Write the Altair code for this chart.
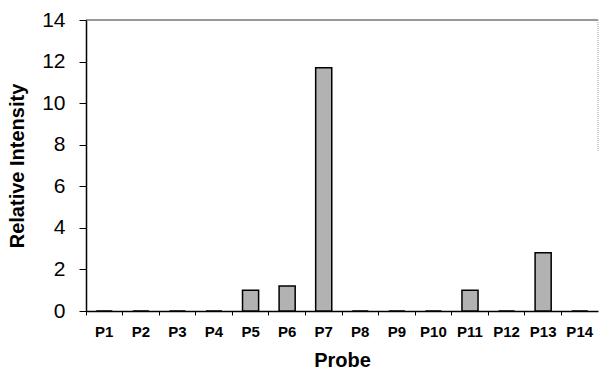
import altair as alt
import pandas as pd

probes = ["P1", "P2", "P3", "P4", "P5", "P6", "P7", "P8", "P9", "P10", "P11", "P12", "P13", "P14"]
intensity = [0, 0, 0, 0, 1.0, 1.2, 11.7, 0, 0, 0, 1.0, 0, 2.8, 0]
y_ticks = [0, 2, 4, 6, 8, 10, 12, 14]

df = pd.DataFrame({"Probe": probes, "Intensity": intensity})
FONT = "Liberation Sans"

bars = alt.Chart(df).mark_bar(
    width=alt.RelativeBandSize(0.44), fill="#b2b2b2", stroke="black", strokeWidth=1.5
).encode(
    x=alt.X("Probe:N", sort=probes, title="Probe",
            scale=alt.Scale(paddingInner=0, paddingOuter=0),
            axis=alt.Axis(bandPosition=0, labelAngle=0, tickSize=4, tickColor="black",
                          domainColor="black", domainWidth=1.5, labelFont=FONT,
                          labelFontSize=15, labelFontWeight="bold", labelColor="black",
                          labelPadding=9, titleFont=FONT, titleFontSize=20,
                          titleFontWeight="bold", titleColor="black", titlePadding=11)),
    y=alt.Y("Intensity:Q", title="Relative Intensity",
            scale=alt.Scale(domain=[0, 14], nice=False),
            axis=alt.Axis(values=y_ticks, grid=False, tickSize=7, tickColor="black",
                          domainColor="black", domainWidth=1.5, labelFont=FONT,
                          labelFontSize=21, labelColor="black", labelPadding=14,
                          titleFont=FONT, titleFontSize=20, titleFontWeight="bold",
                          titleColor="black", titlePadding=14)),
)

top = alt.Chart(pd.DataFrame({"y": [14]})).mark_rule(color="#333333", strokeWidth=1).encode(
    y=alt.Y("y:Q")
)

right = alt.Chart(pd.DataFrame({"y": [14], "y2": [7.7]})).mark_rule(
    color="#999999", strokeWidth=1, strokeDash=[1, 1]
).encode(x=alt.value(512), y=alt.Y("y:Q"), y2="y2:Q")

chart = alt.layer(top, right, bars).properties(
    width=512, height=291,
    autosize=alt.AutoSizeParams(type="none"),
    padding={"left": 86, "top": 20, "right": 1, "bottom": 60},
    background="white",
).configure_view(stroke=None)

chart.save("out.html", embed_options={"renderer": "svg", "actions": False})
